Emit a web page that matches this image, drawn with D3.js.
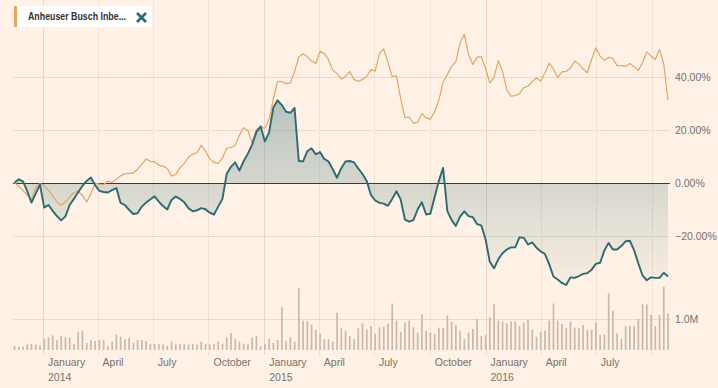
<!DOCTYPE html>
<html>
<head>
<meta charset="utf-8">
<script src="https://d3js.org/d3.v7.min.js"></script>
<style>
	body { margin: 0; background: #fff1e5; }
	svg { display: block; font-family: "Liberation Sans", Arial, sans-serif; }
</style>
</head>
<body>
<div id="chart"></div>
<script>

// ---DATA---//

// weekly closes, first week and last week
var startDate = new Date(2013, 10, 15);
var endDate = new Date(2016, 9, 28);

// main stock, % change since start (teal)
var stockChange = [
	0.1, 1.4, 0.6, -3.1, -7.4, -4.0, -0.6, -9.3, -8.3, -10.5,
	-12.5, -14.1, -12.6, -8.3, -6.0, -3.5, -1.1, 0.8, 2.1, -0.8,
	-3.0, -3.4, -3.6, -2.7, -1.9, -7.5, -8.3, -10.1, -11.7, -11.4,
	-8.9, -7.4, -6.2, -5.0, -7.0, -8.7, -10.0, -6.4, -5.1, -6.0,
	-7.3, -9.5, -10.7, -10.3, -9.5, -9.9, -11.2, -11.9, -8.9, -6.0,
	3.4, 6.1, 7.8, 4.7, 8.2, 11.1, 14.5, 19.2, 21.4, 15.7,
	19.1, 28.5, 31.2, 29.4, 26.9, 26.5, 28.3, 8.3, 8.2, 12.0,
	13.1, 10.8, 11.7, 9.1, 8.1, 5.2, 2.0, 5.6, 8.1, 8.3,
	7.8, 5.5, 3.4, 0.8, -4.5, -6.6, -7.5, -7.8, -8.6, -6.0,
	-3.1, -6.2, -13.8, -14.6, -14.0, -10.0, -7.3, -11.9, -11.6, -5.4,
	0.8, 5.7, -10.6, -13.9, -16.2, -12.7, -10.7, -12.5, -12.9, -15.5,
	-16.0, -21.2, -29.7, -32.2, -28.8, -26.5, -25.1, -24.3, -24.3, -20.5,
	-20.7, -23.2, -22.4, -24.4, -25.8, -26.8, -30.6, -35.3, -36.4, -37.7,
	-38.5, -35.6, -35.8, -35.1, -34.3, -34.0, -32.7, -30.5, -30.1, -25.5,
	-22.6, -25.1, -25.1, -23.8, -22.0, -21.8, -25.3, -30.3, -34.9, -36.7,
	-35.6, -35.8, -35.8, -33.9, -35.3
];

// Anheuser Busch Inbev, % change since start (orange)
var compareChange = [
	0.1, -1.1, -2.8, -4.6, -6.3, -1.7, -0.2, -1.0, -2.8, -4.8,
	-7.1, -8.4, -7.2, -5.2, -3.6, -3.1, -4.7, -7.1, -4.1, 0.0,
	-0.4, -0.6, 0.7, 0.2, 1.4, 2.7, 3.5, 3.6, 3.8, 5.2,
	7.0, 9.1, 8.2, 8.0, 6.7, 6.4, 5.5, 2.6, 3.2, 5.8,
	7.4, 9.7, 10.9, 11.4, 14.2, 12.1, 9.2, 7.8, 7.4, 9.4,
	13.1, 13.4, 14.2, 18.0, 20.9, 19.7, 15.3, 20.3, 21.0, 20.7,
	24.0, 31.7, 38.3, 38.3, 37.5, 37.7, 42.0, 47.6, 48.7, 47.7,
	46.0, 45.1, 49.7, 48.9, 46.5, 42.5, 41.3, 39.3, 40.2, 42.1,
	39.1, 38.3, 39.1, 40.2, 42.8, 42.2, 48.8, 50.6, 45.5, 40.2,
	40.4, 31.9, 24.7, 24.9, 22.6, 22.9, 26.2, 24.6, 24.1, 26.8,
	31.3, 38.0, 41.0, 44.0, 45.7, 52.8, 56.1, 48.5, 44.7, 47.4,
	47.7, 43.2, 37.8, 39.9, 46.2, 42.1, 35.2, 32.8, 33.0, 33.7,
	36.0, 36.5, 38.2, 39.7, 38.5, 41.5, 45.2, 43.1, 39.8, 41.9,
	42.1, 43.4, 46.0, 44.9, 43.0, 41.6, 46.6, 51.0, 47.9, 46.3,
	47.4, 47.0, 44.3, 44.3, 44.0, 45.1, 43.9, 42.5, 45.4, 49.5,
	47.9, 46.6, 50.4, 44.9, 31.3
];

// weekly volume, millions
var volume = [
	0.13, 0.11, 0.11, 0.18, 0.2, 0.18, 0.15, 0.35, 0.41, 0.47,
	0.32, 0.45, 0.41, 0.40, 0.19, 0.57, 0.62, 0.23, 0.32, 0.29,
	0.32, 0.32, 0.13, 0.28, 0.5, 0.43, 0.35, 0.39, 0.23, 0.32,
	0.32, 0.29, 0.2, 0.19, 0.19, 0.18, 0.13, 0.27, 0.2, 0.2,
	0.2, 0.18, 0.2, 0.18, 0.27, 0.2, 0.18, 0.2, 0.27, 0.2,
	0.41, 0.55, 0.36, 0.27, 0.2, 0.2, 0.41, 0.45, 0.13, 0.2,
	0.35, 0.23, 0.32, 1.38, 0.3, 0.41, 0.27, 1.99, 0.95, 0.92,
	0.81, 0.65, 0.52, 0.35, 0.35, 0.27, 1.2, 0.7, 0.62, 0.45,
	0.35, 0.7,
	0.86, 0.67, 0.77, 0.52, 0.73, 0.75, 0.84, 1.5, 0.95, 0.59,
	0.88, 0.95, 0.73, 0.56, 1.15, 0.62, 0.56, 0.52, 0.72, 0.72,
	1.12, 0.91, 0.8, 0.62, 0.35, 0.56, 0.68, 1.0, 0.45, 0.48,
	1.05, 1.48, 0.95, 0.92, 0.86, 0.92, 0.92, 0.77, 0.88, 0.97,
	0.65, 0.43, 0.59, 0.62, 0.95, 1.5, 0.95, 0.84, 0.72, 0.92,
	0.72, 0.70, 0.81, 0.65, 0.65, 0.88, 0.48, 0.5, 1.83, 1.27,
	0.54, 0.35, 0.77, 0.77, 0.78, 1.0, 1.48, 1.47, 1.13, 0.77,
	1.13, 2.04, 1.18
];

var pctTicks = [ -20, 0, 20, 40 ];
var volumeTicks = [ 1 ];
var monthNames = [ "January", "April", "July", "October" ];
var legendLabel = "Anheuser Busch Inbe...";

// ---MODULE VARIABLES---//

var width = 718;
var height = 388;
var plotLeft = 13;
var plotRight = 670;

var tealColor = "#2b6b71";
var orangeColor = "#e2a664";
var gridColor = "#e9dccc";
var textColor = "#77716b";

var dates = d3.range(stockChange.length).map(function(i) {
	return d3.timeWeek.offset(startDate, i);
});

var data = dates.map(function(d, i) {
	return {
		date : d,
		stock : stockChange[i],
		compare : compareChange[i],
		volume : volume[i]
	};
});

var x = d3.scaleTime().domain([ startDate, endDate ]).range([ 14.5, 668 ]);
var y = d3.scaleLinear().domain([ -40, 60 ]).range([ 289, 24 ]);
var yVol = d3.scaleLinear().domain([ 0, 1 ]).range([ 350, 319 ]);

var svg = d3.select("#chart").append("svg")
		.attr("width", width)
		.attr("height", height);

svg.append("rect")
		.attr("width", width)
		.attr("height", height)
		.attr("fill", "#fff1e5");

// ---GRID---//

var quarterTicks = d3.timeMonth.every(3).range(new Date(2014, 0, 1), endDate);

svg.append("g").attr("class", "vgrid").selectAll("line").data(quarterTicks).enter()
		.append("line") //
		.attr("x1", function(d) { return Math.round(x(d)) + 0.5; }) //
		.attr("x2", function(d) { return Math.round(x(d)) + 0.5; }) //
		.attr("y1", 0) //
		.attr("y2", 355) //
		.attr("stroke", function(d) { return d.getMonth() === 0 ? "#e6d8c8" : "#e2d4c3"; }) //
		.attr("stroke-dasharray", function(d) { return d.getMonth() === 0 ? null : "1,1"; });

svg.append("g").attr("class", "hgrid").selectAll("line").data(pctTicks.filter(function(t) { return t !== 0; })).enter()
		.append("line") //
		.attr("x1", plotLeft) //
		.attr("x2", plotRight) //
		.attr("y1", function(d) { return Math.round(y(d)) + 0.5; }) //
		.attr("y2", function(d) { return Math.round(y(d)) + 0.5; }) //
		.attr("stroke", gridColor);

svg.append("g").attr("class", "volgrid").selectAll("line").data(volumeTicks).enter()
		.append("line") //
		.attr("x1", plotLeft) //
		.attr("x2", plotRight) //
		.attr("y1", function(d) { return Math.round(yVol(d)) + 0.5; }) //
		.attr("y2", function(d) { return Math.round(yVol(d)) + 0.5; }) //
		.attr("stroke", gridColor);

// ---VOLUME---//

svg.append("g").attr("class", "volume").selectAll("rect").data(data).enter()
		.append("rect") //
		.attr("x", function(d) { return x(d.date) - 0.8; }) //
		.attr("y", function(d) { return yVol(d.volume); }) //
		.attr("width", 1.7) //
		.attr("height", function(d) { return yVol(0) - yVol(d.volume); }) //
		.attr("fill", "#c9baa8");

// ---AREA---//

var defs = svg.append("defs");
var grad = defs.append("linearGradient")
		.attr("id", "areaGrad")
		.attr("gradientUnits", "userSpaceOnUse")
		.attr("x1", 0).attr("x2", 0)
		.attr("y1", y(50)).attr("y2", y(-40));
grad.append("stop").attr("offset", "0%").attr("stop-color", tealColor).attr("stop-opacity", 0.42);
grad.append("stop").attr("offset", "100%").attr("stop-color", tealColor).attr("stop-opacity", 0.02);

var area = d3.area()
		.x(function(d) { return x(d.date); })
		.y0(y(0))
		.y1(function(d) { return y(d.stock); });

svg.append("path").datum(data)
		.attr("d", area)
		.attr("fill", "url(#areaGrad)");

// zero line
svg.append("line")
		.attr("x1", plotLeft)
		.attr("x2", plotRight)
		.attr("y1", Math.round(y(0)) + 0.5)
		.attr("y2", Math.round(y(0)) + 0.5)
		.attr("stroke", "#3c3a38")
		.attr("stroke-width", 1);

// ---LINES---//

var compareLine = d3.line()
		.x(function(d) { return x(d.date); })
		.y(function(d) { return y(d.compare); });

var stockLine = d3.line()
		.x(function(d) { return x(d.date); })
		.y(function(d) { return y(d.stock); });

svg.append("path").datum(data)
		.attr("d", compareLine)
		.attr("fill", "none")
		.attr("stroke", orangeColor)
		.attr("stroke-width", 1.2)
		.attr("stroke-linejoin", "round");

svg.append("path").datum(data)
		.attr("d", stockLine)
		.attr("fill", "none")
		.attr("stroke", tealColor)
		.attr("stroke-width", 1.9)
		.attr("stroke-linejoin", "round");

// ---AXES---//

var pctFormat = function(d) { return d3.format(".2f")(d) + "%"; };

svg.append("g").attr("class", "yaxis").selectAll("text").data(pctTicks).enter()
		.append("text") //
		.attr("x", 675) //
		.attr("y", function(d) { return y(d); }) //
		.attr("dy", "0.35em") //
		.attr("font-size", "10.5px") //
		.attr("fill", textColor) //
		.text(pctFormat);

svg.append("g").attr("class", "volaxis").selectAll("text").data(volumeTicks).enter()
		.append("text") //
		.attr("x", 675) //
		.attr("y", function(d) { return yVol(d); }) //
		.attr("dy", "0.35em") //
		.attr("font-size", "10.5px") //
		.attr("fill", textColor) //
		.text(function(d) { return d3.format(".1f")(d) + "M"; });

// October 2016 has a gridline but no label
var labelTicks = quarterTicks.filter(function(d) { return x(d) < 640; });

var xAxis = svg.append("g").attr("class", "xaxis");

xAxis.selectAll("text.month").data(labelTicks).enter()
		.append("text") //
		.attr("class", "month") //
		.attr("x", function(d) { return x(d) + 5; }) //
		.attr("y", 366) //
		.attr("font-size", "10.5px") //
		.attr("fill", textColor) //
		.text(function(d) { return monthNames[d.getMonth() / 3]; });

xAxis.selectAll("text.year").data(labelTicks.filter(function(d) { return d.getMonth() === 0; })).enter()
		.append("text") //
		.attr("class", "year") //
		.attr("x", function(d) { return x(d) + 5; }) //
		.attr("y", 381) //
		.attr("font-size", "10.5px") //
		.attr("fill", textColor) //
		.text(function(d) { return d.getFullYear(); });

// ---LEGEND---//

var legend = svg.append("g").attr("class", "legend");

legend.append("rect")
		.attr("x", 17).attr("y", 6)
		.attr("width", 135).attr("height", 21)
		.attr("fill", "#ffffff");

legend.append("rect")
		.attr("x", 14).attr("y", 6)
		.attr("width", 3).attr("height", 21)
		.attr("fill", orangeColor);

legend.append("text")
		.attr("x", 28).attr("y", 20)
		.attr("font-size", "10px")
		.attr("font-weight", "bold")
		.attr("textLength", 98)
		.attr("lengthAdjust", "spacingAndGlyphs")
		.attr("fill", "#33302e")
		.text(legendLabel);

legend.selectAll("line.close").data([ [ 137, 13, 146, 22 ], [ 146, 13, 137, 22 ] ]).enter()
		.append("line") //
		.attr("class", "close") //
		.attr("x1", function(d) { return d[0]; }) //
		.attr("y1", function(d) { return d[1]; }) //
		.attr("x2", function(d) { return d[2]; }) //
		.attr("y2", function(d) { return d[3]; }) //
		.attr("stroke", "#2e6a70") //
		.attr("stroke-width", 2.6);

</script>
</body>
</html>
